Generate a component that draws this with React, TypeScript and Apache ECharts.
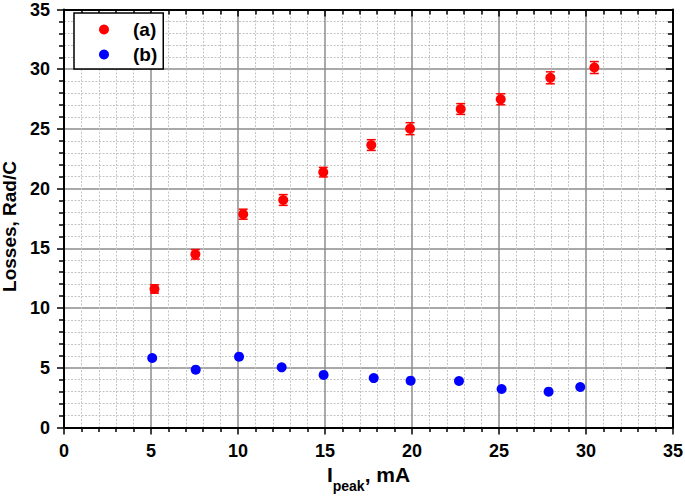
import React, { useEffect, useRef } from "react";
import * as echarts from "echarts";

const seriesAX = [5.2, 7.55, 10.3, 12.6, 14.9, 17.66, 19.89, 22.8, 25.1, 27.95, 30.48];
const seriesAY = [11.6, 14.5, 17.86, 19.05, 21.38, 23.65, 25.02, 26.67, 27.48, 29.28, 30.14];
const seriesAErr = [0.35, 0.4, 0.42, 0.45, 0.4, 0.45, 0.5, 0.45, 0.46, 0.5, 0.5];
const seriesBX = [5.07, 7.57, 10.06, 12.51, 14.92, 17.8, 19.92, 22.7, 25.15, 27.85, 29.67];
const seriesBY = [5.82, 4.84, 5.93, 5.04, 4.4, 4.14, 3.92, 3.89, 3.22, 3.0, 3.39];
const legendNames = ["(a)", "(b)"];
const axisMin = 0;
const axisMax = 35;
const axisInterval = 5;

const FONT = "Liberation Sans";

export default function App() {
  const ref = useRef<HTMLDivElement>(null);
  useEffect(() => {
    if (!ref.current) return;
    const chart = echarts.init(ref.current, null, { renderer: "svg" });
    const aData = seriesAX.map((x, i) => [x, seriesAY[i]]);
    const aErr = seriesAX.map((x, i) => [x, seriesAY[i], seriesAErr[i]]);
    const bData = seriesBX.map((x, i) => [x, seriesBY[i]]);

    const baseAxis = {
      min: axisMin,
      max: axisMax,
      interval: axisInterval,
      axisLine: { show: true, onZero: false, lineStyle: { color: "#000", width: 2 } },
    };
    const labelStyle = { color: "#000", fontFamily: FONT, fontWeight: "bold", fontSize: 18 };

    chart.setOption({
      animation: false,
      backgroundColor: "#fff",
      grid: { left: 64, right: 12, top: 9.5, bottom: 73.5, containLabel: false, outerBoundsMode: "none" },
      legend: {
        show: true,
        data: legendNames.map((n) => ({ name: n, icon: "circle" })),
        orient: "vertical",
        left: 74,
        top: 13,
        itemWidth: 10,
        itemHeight: 10,
        itemGap: 6,
        padding: [7, 6, 5, 25],
        backgroundColor: "#fff",
        borderColor: "#000",
        borderWidth: 1.5,
        textStyle: { ...labelStyle, fontSize: 19, padding: [0, 0, 0, 19], lineHeight: 18 },
      },
      xAxis: [
        {
          ...baseAxis,
          type: "value",
          position: "bottom",
          name: "{i|I}{sub|peak}{n|, mA}",
          nameLocation: "middle",
          nameGap: 42,
          nameTextStyle: {
            rich: {
              i: { fontFamily: FONT, fontWeight: "bold", fontSize: 21, lineHeight: 21, color: "#000", padding: [0, 0, 8, 0], verticalAlign: "bottom" },
              sub: { fontFamily: FONT, fontWeight: "bold", fontSize: 14, lineHeight: 14, color: "#000", verticalAlign: "bottom" },
              n: { fontFamily: FONT, fontWeight: "bold", fontSize: 21, lineHeight: 21, color: "#000", padding: [0, 0, 8, 0], verticalAlign: "bottom" },
            },
          },
          axisTick: { show: true, inside: false, length: 7, lineStyle: { color: "#000", width: 1.5 } },
          minorTick: { show: true, splitNumber: 5, length: 4.5, lineStyle: { color: "#000", width: 1.5 } },
          axisLabel: { ...labelStyle, margin: 14 },
          splitLine: { show: true, lineStyle: { color: "#8c8c8c", width: 1.5 } },
          minorSplitLine: { show: true, lineStyle: { color: "#c4c4c4", width: 1, type: [2, 1.5] } },
        },
        {
          ...baseAxis,
          type: "value",
          position: "top",
          axisTick: { show: true, inside: true, length: 7, lineStyle: { color: "#000", width: 1.5 } },
          minorTick: { show: true, splitNumber: 5, length: 5, lineStyle: { color: "#000", width: 1.5 } },
          axisLabel: { show: false },
          splitLine: { show: false },
        },
      ],
      yAxis: [
        {
          ...baseAxis,
          type: "value",
          position: "left",
          name: "Losses, Rad/C",
          nameLocation: "middle",
          nameGap: 42,
          nameTextStyle: { ...labelStyle, fontSize: 19, lineHeight: 19, padding: [0, 16, 0, 0] },
          axisTick: { show: true, inside: false, length: 7, lineStyle: { color: "#000", width: 1.5 } },
          minorTick: { show: true, splitNumber: 5, length: 5, lineStyle: { color: "#000", width: 1.5 } },
          axisLabel: { ...labelStyle, margin: 14 },
          splitLine: { show: true, lineStyle: { color: "#8c8c8c", width: 1.5 } },
          minorSplitLine: { show: true, lineStyle: { color: "#c4c4c4", width: 1, type: [2, 1.5] } },
        },
        {
          ...baseAxis,
          type: "value",
          position: "right",
          axisTick: { show: true, inside: true, length: 7, lineStyle: { color: "#000", width: 1.5 } },
          minorTick: { show: true, splitNumber: 5, length: 5, lineStyle: { color: "#000", width: 1.5 } },
          axisLabel: { show: false },
          splitLine: { show: false },
        },
      ],
      series: [
        {
          type: "custom",
          name: "errA",
          xAxisIndex: 0,
          yAxisIndex: 0,
          data: aErr,
          encode: { x: 0, y: 1 },
          z: 3,
          renderItem: (params: any, api: any) => {
            const x = api.value(0);
            const y = api.value(1);
            const e = api.value(2);
            const top = api.coord([x, y + e]);
            const bot = api.coord([x, y - e]);
            const hw = 4.5;
            const style = { stroke: "#ff0000", lineWidth: 1.5 };
            return {
              type: "group",
              children: [
                { type: "line", shape: { x1: top[0], y1: top[1], x2: bot[0], y2: bot[1] }, style },
                { type: "line", shape: { x1: top[0] - hw, y1: top[1], x2: top[0] + hw, y2: top[1] }, style },
                { type: "line", shape: { x1: bot[0] - hw, y1: bot[1], x2: bot[0] + hw, y2: bot[1] }, style },
              ],
            };
          },
        },
        {
          type: "scatter",
          name: legendNames[0],
          data: aData,
          symbol: "circle",
          symbolSize: 10,
          itemStyle: { color: "#ff0000", opacity: 1 },
          z: 4,
        },
        {
          type: "scatter",
          name: legendNames[1],
          data: bData,
          symbol: "circle",
          symbolSize: 10,
          itemStyle: { color: "#0000ff", opacity: 1 },
          z: 4,
        },
      ],
    });
    return () => chart.dispose();
  }, []);
  return <div ref={ref} style={{ position: "fixed", left: 0, top: 0, width: 685, height: 501 }} />;
}
